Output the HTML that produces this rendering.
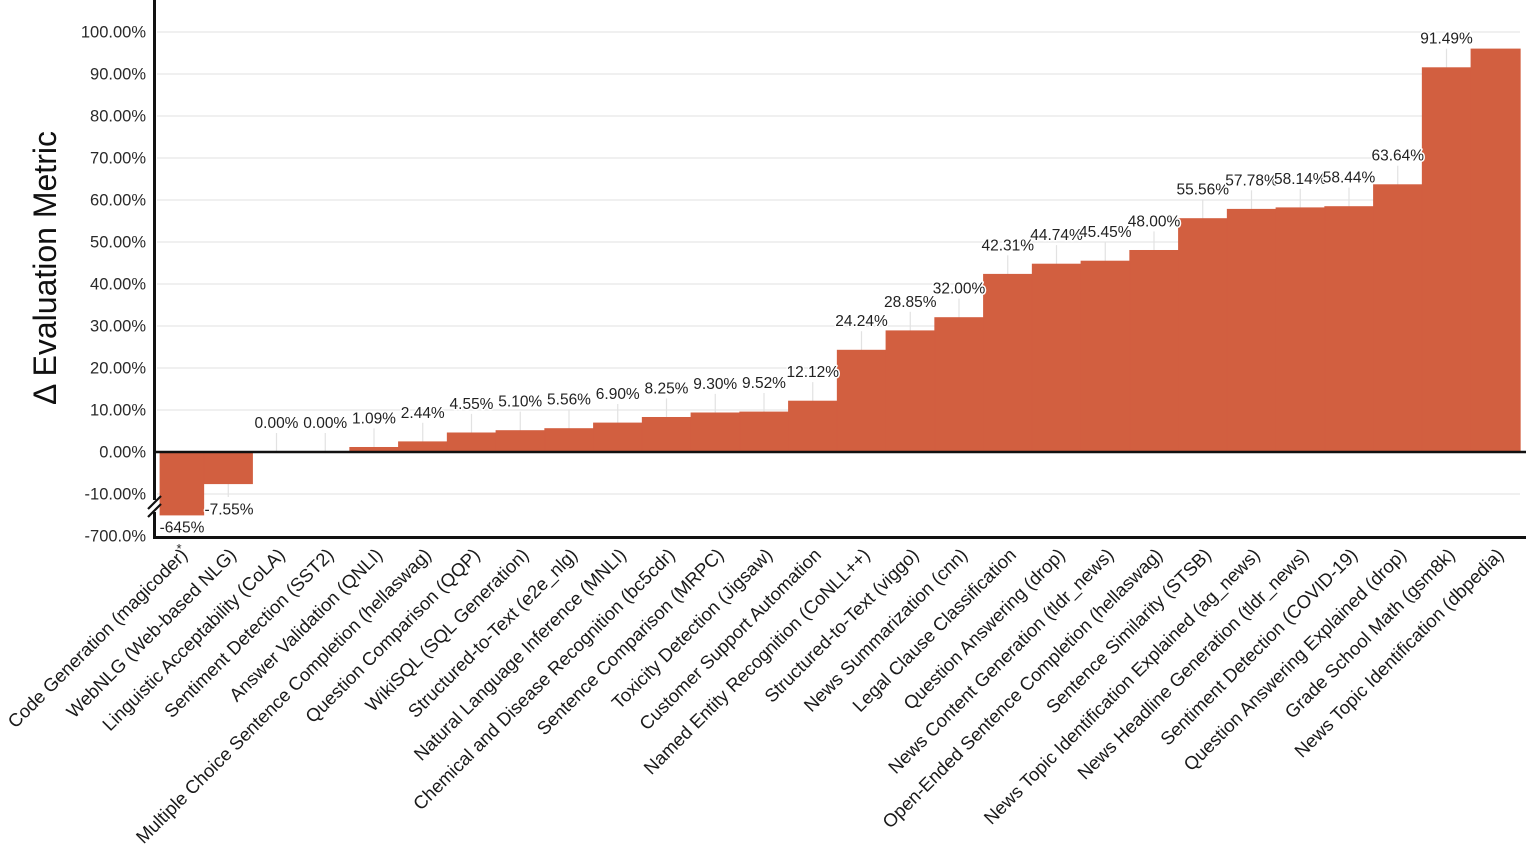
<!DOCTYPE html>
<html>
<head>
<meta charset="utf-8">
<style>
  html, body { margin: 0; padding: 0; background: #ffffff; }
  body { width: 1526px; height: 852px; overflow: hidden; }
  svg { display: block; }
  .tick { font-family: "Liberation Sans", Arial, sans-serif; font-size: 16.5px; fill: #2a2a2a; text-anchor: end; }
  .val { font-family: "Liberation Sans", Arial, sans-serif; font-size: 15.5px; fill: #222; text-anchor: middle; stroke: #ffffff; stroke-width: 3px; paint-order: stroke; stroke-linejoin: round; }
  .xl { font-family: "Liberation Sans", Arial, sans-serif; font-size: 18.5px; fill: #1a1a1a; text-anchor: end; }
  .title { font-family: "Liberation Sans", Arial, sans-serif; font-size: 32px; fill: #111; text-anchor: middle; }
</style>
</head>
<body>
<svg width="1526" height="852" viewBox="0 0 1526 852" xmlns="http://www.w3.org/2000/svg">
  <rect x="0" y="0" width="1526" height="852" fill="#ffffff"/>

  <!-- horizontal gridlines -->
  <g stroke="#ebebeb" stroke-width="1.5">
    <line x1="157" y1="32" x2="1520" y2="32"/>
    <line x1="157" y1="74" x2="1520" y2="74"/>
    <line x1="157" y1="116" x2="1520" y2="116"/>
    <line x1="157" y1="158" x2="1520" y2="158"/>
    <line x1="157" y1="200" x2="1520" y2="200"/>
    <line x1="157" y1="242" x2="1520" y2="242"/>
    <line x1="157" y1="284" x2="1520" y2="284"/>
    <line x1="157" y1="326" x2="1520" y2="326"/>
    <line x1="157" y1="368" x2="1520" y2="368"/>
    <line x1="157" y1="410" x2="1520" y2="410"/>
    <line x1="157" y1="494" x2="1520" y2="494"/>
  </g>

  <!-- y tick labels -->
  <g class="tick">
    <text x="146" y="37.5">100.00%</text>
    <text x="146" y="79.5">90.00%</text>
    <text x="146" y="121.5">80.00%</text>
    <text x="146" y="163.5">70.00%</text>
    <text x="146" y="205.5">60.00%</text>
    <text x="146" y="247.5">50.00%</text>
    <text x="146" y="289.5">40.00%</text>
    <text x="146" y="331.5">30.00%</text>
    <text x="146" y="373.5">20.00%</text>
    <text x="146" y="415.5">10.00%</text>
    <text x="146" y="457.5">0.00%</text>
    <text x="146" y="499.5">-10.00%</text>
    <text x="146" y="541.5">-700.0%</text>
  </g>

  <!-- leader lines -->
  <g stroke="#e2e2e2" stroke-width="1.2">
    <line x1="276.5" y1="433" x2="276.5" y2="452"/>
    <line x1="325.25" y1="433" x2="325.25" y2="452"/>
    <line x1="374" y1="428.4" x2="374" y2="447.4"/>
    <line x1="422.75" y1="422.8" x2="422.75" y2="441.8"/>
    <line x1="471.5" y1="413.9" x2="471.5" y2="432.9"/>
    <line x1="520.25" y1="411.6" x2="520.25" y2="430.6"/>
    <line x1="569" y1="409.6" x2="569" y2="428.6"/>
    <line x1="617.75" y1="404" x2="617.75" y2="423"/>
    <line x1="666.5" y1="398.4" x2="666.5" y2="417.4"/>
    <line x1="715.25" y1="393.9" x2="715.25" y2="412.9"/>
    <line x1="764" y1="393" x2="764" y2="412"/>
    <line x1="812.75" y1="382.1" x2="812.75" y2="401.1"/>
    <line x1="861.5" y1="331.2" x2="861.5" y2="350.2"/>
    <line x1="910.25" y1="311.8" x2="910.25" y2="330.8"/>
    <line x1="959" y1="298.6" x2="959" y2="317.6"/>
    <line x1="1007.75" y1="255.3" x2="1007.75" y2="274.3"/>
    <line x1="1056.5" y1="245.1" x2="1056.5" y2="264.1"/>
    <line x1="1105.25" y1="242.1" x2="1105.25" y2="261.1"/>
    <line x1="1154" y1="231.4" x2="1154" y2="250.4"/>
    <line x1="1202.75" y1="199.6" x2="1202.75" y2="218.6"/>
    <line x1="1251.5" y1="190.3" x2="1251.5" y2="209.3"/>
    <line x1="1300.25" y1="188.8" x2="1300.25" y2="207.8"/>
    <line x1="1349" y1="187.6" x2="1349" y2="206.6"/>
    <line x1="1397.75" y1="165.7" x2="1397.75" y2="184.7"/>
    <line x1="1446.5" y1="48.7" x2="1446.5" y2="67.7"/>
    <line x1="228.25" y1="483.7" x2="228.25" y2="497"/>
  </g>

  <!-- bars -->
  <g fill="#d25f40" stroke="#d25f40" stroke-width="0.8">
    <rect x="160" y="452" width="43.75" height="63"/>
    <rect x="203.75" y="452" width="48.75" height="31.7"/>
    <rect x="349.75" y="447.4" width="48.75" height="4.6"/>
    <rect x="398.5" y="441.8" width="48.75" height="10.2"/>
    <rect x="447.25" y="432.9" width="48.75" height="19.1"/>
    <rect x="496" y="430.6" width="48.75" height="21.4"/>
    <rect x="544.75" y="428.6" width="48.75" height="23.4"/>
    <rect x="593.5" y="423" width="48.75" height="29"/>
    <rect x="642.25" y="417.4" width="48.75" height="34.6"/>
    <rect x="691" y="412.9" width="48.75" height="39.1"/>
    <rect x="739.75" y="412" width="48.75" height="40"/>
    <rect x="788.5" y="401.1" width="48.75" height="50.9"/>
    <rect x="837.25" y="350.2" width="48.75" height="101.8"/>
    <rect x="886" y="330.8" width="48.75" height="121.2"/>
    <rect x="934.75" y="317.6" width="48.75" height="134.4"/>
    <rect x="983.5" y="274.3" width="48.75" height="177.7"/>
    <rect x="1032.25" y="264.1" width="48.75" height="187.9"/>
    <rect x="1081" y="261.1" width="48.75" height="190.9"/>
    <rect x="1129.75" y="250.4" width="48.75" height="201.6"/>
    <rect x="1178.5" y="218.6" width="48.75" height="233.4"/>
    <rect x="1227.25" y="209.3" width="48.75" height="242.7"/>
    <rect x="1276" y="207.8" width="48.75" height="244.2"/>
    <rect x="1324.75" y="206.6" width="48.75" height="245.4"/>
    <rect x="1373.5" y="184.7" width="48.75" height="267.3"/>
    <rect x="1422.25" y="67.7" width="48.75" height="384.3"/>
    <rect x="1471" y="49" width="49.25" height="403"/>
  </g>

  <!-- value labels -->
  <g class="val">
    <text x="182" y="532.5">-645%</text>
    <text x="229" y="514.5">-7.55%</text>
    <text x="276.5" y="428">0.00%</text>
    <text x="325.25" y="428">0.00%</text>
    <text x="374" y="423.4">1.09%</text>
    <text x="422.75" y="417.8">2.44%</text>
    <text x="471.5" y="408.9">4.55%</text>
    <text x="520.25" y="406.6">5.10%</text>
    <text x="569" y="404.6">5.56%</text>
    <text x="617.75" y="399">6.90%</text>
    <text x="666.5" y="393.4">8.25%</text>
    <text x="715.25" y="388.9">9.30%</text>
    <text x="764" y="388">9.52%</text>
    <text x="812.75" y="377.1">12.12%</text>
    <text x="861.5" y="326.2">24.24%</text>
    <text x="910.25" y="306.8">28.85%</text>
    <text x="959" y="293.6">32.00%</text>
    <text x="1007.75" y="250.3">42.31%</text>
    <text x="1056.5" y="240.1">44.74%</text>
    <text x="1105.25" y="237.1">45.45%</text>
    <text x="1154" y="226.4">48.00%</text>
    <text x="1202.75" y="194.6">55.56%</text>
    <text x="1251.5" y="185.3">57.78%</text>
    <text x="1300.25" y="183.8">58.14%</text>
    <text x="1349" y="182.6">58.44%</text>
    <text x="1397.75" y="160.7">63.64%</text>
    <text x="1446.5" y="43.7">91.49%</text>
  </g>

  <!-- axes -->
  <line x1="154.5" y1="0" x2="154.5" y2="539" stroke="#111" stroke-width="3"/>
  <line x1="153" y1="537.5" x2="1526" y2="537.5" stroke="#111" stroke-width="3"/>
  <line x1="153" y1="452" x2="1526" y2="452" stroke="#111" stroke-width="2.5"/>
  <!-- axis break marks -->
  <rect x="150" y="500" width="9" height="12" fill="#ffffff"/>
  <line x1="148" y1="509" x2="161" y2="496" stroke="#111" stroke-width="2.2"/>
  <line x1="148" y1="517" x2="161" y2="504" stroke="#111" stroke-width="2.2"/>

  <!-- asterisk -->
  <text x="179" y="553" font-family="Liberation Sans, Arial, sans-serif" font-size="13" fill="#222" text-anchor="middle">*</text>

  <!-- y-axis title -->
  <text class="title" transform="translate(56,268) rotate(-90)">Δ Evaluation Metric</text>

  <!-- x labels -->
  <g class="xl">
    <text transform="translate(188.5,556) rotate(-45)">Code Generation (magicoder)</text>
    <text transform="translate(237.25,556) rotate(-45)">WebNLG (Web-based NLG)</text>
    <text transform="translate(286,556) rotate(-45)">Linguistic Acceptability (CoLA)</text>
    <text transform="translate(334.75,556) rotate(-45)">Sentiment Detection (SST2)</text>
    <text transform="translate(383.5,556) rotate(-45)">Answer Validation (QNLI)</text>
    <text transform="translate(432.25,556) rotate(-45)">Multiple Choice Sentence Completion (hellaswag)</text>
    <text transform="translate(481,556) rotate(-45)">Question Comparison (QQP)</text>
    <text transform="translate(529.75,556) rotate(-45)">WikiSQL (SQL Generation)</text>
    <text transform="translate(578.5,556) rotate(-45)">Structured-to-Text (e2e_nlg)</text>
    <text transform="translate(627.25,556) rotate(-45)">Natural Language Inference (MNLI)</text>
    <text transform="translate(676,556) rotate(-45)">Chemical and Disease Recognition (bc5cdr)</text>
    <text transform="translate(724.75,556) rotate(-45)">Sentence Comparison (MRPC)</text>
    <text transform="translate(773.5,556) rotate(-45)">Toxicity Detection (Jigsaw)</text>
    <text transform="translate(822.25,556) rotate(-45)">Customer Support Automation</text>
    <text transform="translate(871,556) rotate(-45)">Named Entity Recognition (CoNLL++)</text>
    <text transform="translate(919.75,556) rotate(-45)">Structured-to-Text (viggo)</text>
    <text transform="translate(968.5,556) rotate(-45)">News Summarization (cnn)</text>
    <text transform="translate(1017.25,556) rotate(-45)">Legal Clause Classification</text>
    <text transform="translate(1066,556) rotate(-45)">Question Answering (drop)</text>
    <text transform="translate(1114.75,556) rotate(-45)">News Content Generation (tldr_news)</text>
    <text transform="translate(1163.5,556) rotate(-45)">Open-Ended Sentence Completion (hellaswag)</text>
    <text transform="translate(1212.25,556) rotate(-45)">Sentence Similarity (STSB)</text>
    <text transform="translate(1261,556) rotate(-45)">News Topic Identification Explained (ag_news)</text>
    <text transform="translate(1309.75,556) rotate(-45)">News Headline Generation (tldr_news)</text>
    <text transform="translate(1358.5,556) rotate(-45)">Sentiment Detection (COVID-19)</text>
    <text transform="translate(1407.25,556) rotate(-45)">Question Answering Explained (drop)</text>
    <text transform="translate(1456,556) rotate(-45)">Grade School Math (gsm8k)</text>
    <text transform="translate(1504.75,556) rotate(-45)">News Topic Identification (dbpedia)</text>
  </g>
</svg>
</body>
</html>
